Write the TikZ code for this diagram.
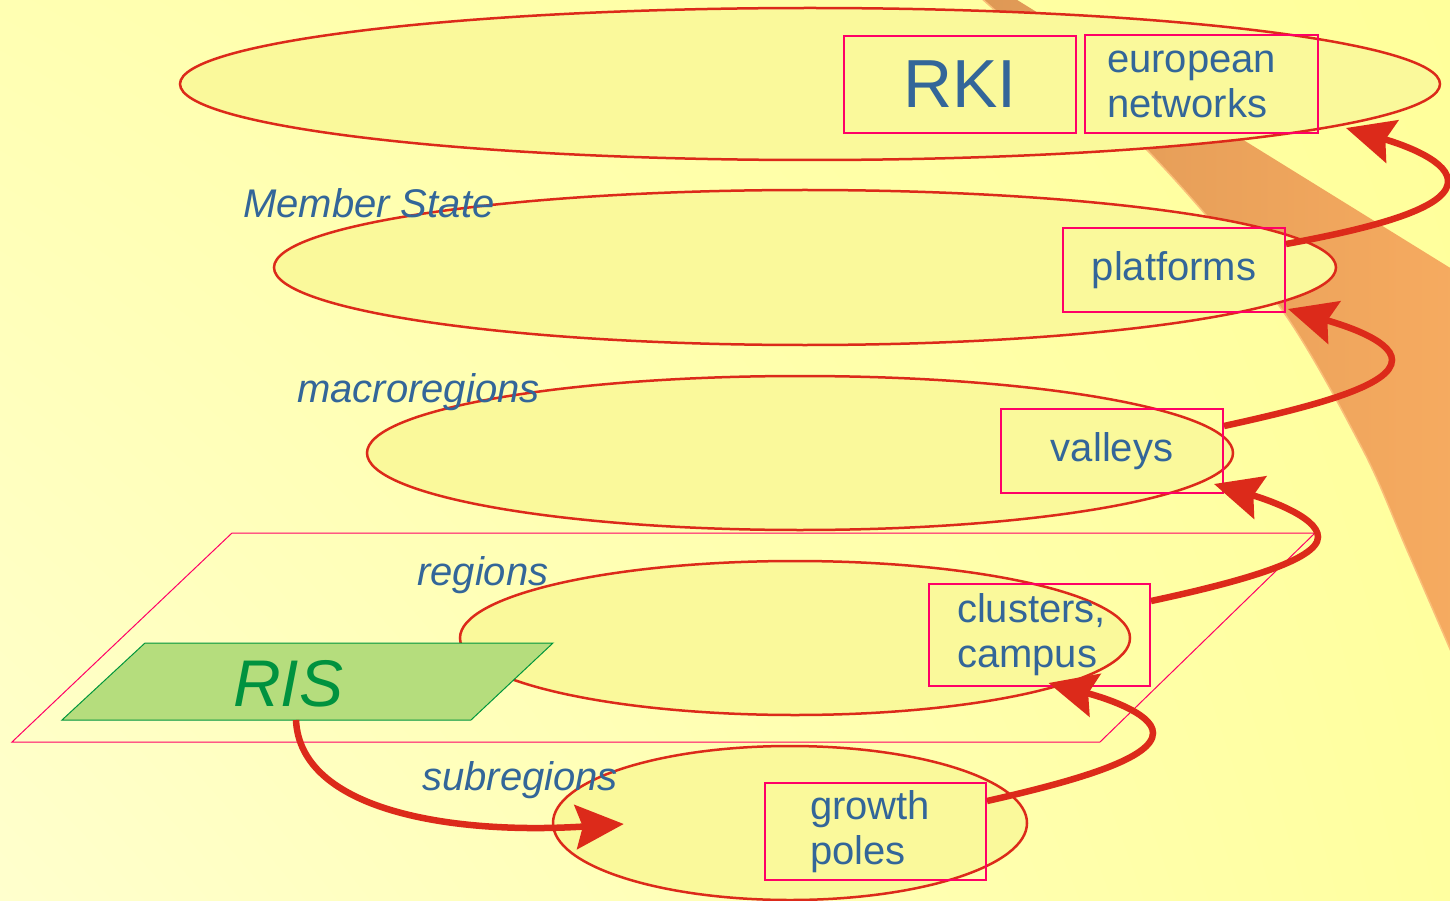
\documentclass[tikz,border=0pt]{standalone}
\usepackage{fontspec}
\setmainfont{Liberation Sans}
\usetikzlibrary{shapes.geometric,arrows.meta,calc,shadings}
\definecolor{lvlred}{RGB}{220,42,26}
\definecolor{lvlfill}{RGB}{250,249,155}
\definecolor{boxpink}{RGB}{255,0,102}
\definecolor{txtblue}{RGB}{51,102,153}
\definecolor{risfill}{RGB}{181,221,125}
\definecolor{risedge}{RGB}{0,150,60}
\definecolor{risgreen}{RGB}{0,146,63}
\definecolor{banddark}{RGB}{222,152,85}
\definecolor{bandlight}{RGB}{246,171,96}
\definecolor{bandedge}{RGB}{250,190,120}
\definecolor{bgtl}{RGB}{255,255,178}
\definecolor{bgtr}{RGB}{255,255,155}
\definecolor{bgbl}{RGB}{255,255,205}
\definecolor{bgbr}{RGB}{255,255,160}
\tikzset{
  plane/.style={ellipse, draw=lvlred, line width=2.5pt, fill=lvlfill, inner sep=0pt},
  pinkbox/.style={draw=boxpink, line width=2pt, text=txtblue,
    font=\fontsize{40}{45}\selectfont},
  lvllabel/.style={anchor=base west, text=txtblue, inner sep=0pt,
    font=\fontsize{40}{45}\selectfont\itshape},
  spiral/.style={draw=lvlred, line width=6.5pt,
    -{Stealth[length=48pt,width=44pt,inset=7pt]}},
}
\begin{document}
\begin{tikzpicture}[x=1pt, y=-1pt]
  \useasboundingbox (0,0) rectangle (1450,901);
  \shade[upper left=bgtl, upper right=bgtr, lower left=bgbl, lower right=bgbr]
    (0,0) rectangle (1450,901);

  % band behind the levels
  \begin{scope}
    \clip (0,0) rectangle (1450,901);
    \shade[left color=banddark, right color=bandlight]
      plot[smooth] coordinates {(972,-10) (1147,150) (1280,307) (1363,450) (1407,550) (1460,672)}
      -- (1460,274) -- (1001,-10) -- cycle;
    \draw[bandedge, line width=1.5pt]
      plot[smooth] coordinates {(972,-10) (1147,150) (1280,307) (1363,450) (1407,550) (1460,672)};
  \end{scope}

  % regional plane
  \draw[boxpink, line width=1pt] (232,533) -- (1315,533) -- (1100,742) -- (12,742) -- cycle;

  % levels
  \node[plane, minimum width=1260pt, minimum height=152pt] (eu) at (810,84) {};
  \node[plane, minimum width=1062pt, minimum height=155pt] (ms) at (805,267.5) {};
  \node[plane, minimum width=866pt, minimum height=154pt] (macro) at (800,453) {};
  \node[plane, minimum width=670pt, minimum height=154pt] (reg) at (795,638) {};
  \node[plane, minimum width=474pt, minimum height=154pt] (sub) at (790,823) {};

  \node[lvllabel] (lblms) at (243,218) {Member State};
  \node[lvllabel] (lblmacro) at (297,402) {macroregions};
  \node[lvllabel] (lblreg) at (417,585) {regions};
  \node[lvllabel] (lblsub) at (422,790) {subregions};

  % boxes
  \node[pinkbox, minimum width=232pt, minimum height=97pt,
    font=\fontsize{68}{68}\selectfont] (rki) at (960,84.5) {RKI};
  \node[pinkbox, minimum width=233pt, minimum height=98pt, inner xsep=22pt,
    text width=189pt, align=left] (euronet) at (1201.5,84) {european\\networks};
  \node[pinkbox, minimum width=222pt, minimum height=84pt] (platf) at (1174,270) {platforms};
  \node[pinkbox, minimum width=222pt, minimum height=84pt] (valleys) at (1112,451) {valleys};
  \node[pinkbox, minimum width=221pt, minimum height=102pt, inner xsep=28pt,
    text width=165pt, align=left] (clust) at (1039.5,635) {clusters,\\campus};
  \node[pinkbox, minimum width=221pt, minimum height=97pt, inner xsep=45pt,
    text width=131pt, align=left] (grow) at (875.5,831.5) {growth\\poles};

  % RIS
  \filldraw[fill=risfill, draw=risedge, line width=1pt]
    (145,643) -- (553,643) -- (471,720) -- (62,720) -- cycle;
  \node[anchor=base west, inner sep=0pt, text=risgreen,
    font=\fontsize{66}{66}\selectfont\itshape] (ris) at (233,706) {RIS};
  \coordinate (risfoot) at (296,720);
  \coordinate (subin) at ($(sub.west)+(72,1)$);

  % spiral upwards
  \draw[spiral] (risfoot) .. controls (300,810) and (450,835) .. (subin);
  \draw[spiral] ($(grow.north east)+(0,19)$) .. controls (1080,780) and (1153,758) .. (1153,733)
    .. controls (1153,712) and (1098,696) .. ($(clust.south)+(9,-4)$);
  \draw[spiral] ($(clust.north east)+(0,18)$) .. controls (1240,582) and (1318,560) .. (1318,537)
    .. controls (1318,516) and (1262,498) .. ($(valleys.south east)+(-10,-10)$);
  \draw[spiral] ($(valleys.north east)+(0,18)$) .. controls (1320,405) and (1392,385) .. (1392,360)
    .. controls (1392,339) and (1336,323) .. ($(platf.south east)+(2,-4)$);
  \draw[spiral] ($(platf.north east)+(0,17)$) .. controls (1390,225) and (1450,205) .. (1448,180)
    .. controls (1446,158) and (1394,142) .. ($(euronet.south east)+(27,-6)$);
\end{tikzpicture}
\end{document}
